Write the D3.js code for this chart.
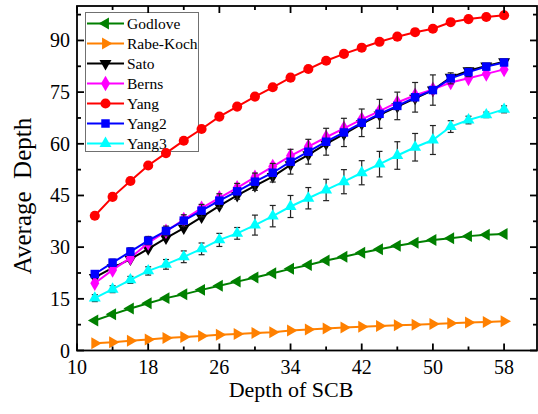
<!DOCTYPE html>
<html>
<head>
<meta charset="utf-8">
<script src="https://cdn.jsdelivr.net/npm/d3@7"></script>
<style>
  body { margin: 0; background: #fff; }
  text { font-family: "Liberation Serif", "Times New Roman", serif; }
</style>
</head>
<body>
<div id="chart"></div>
<script>
  // data
  var depths = [12,14,16,18,20,22,24,26,28,30,32,34,36,38,40,42,44,46,48,50,52,54,56,58];
  var godlove  = [8.7,10.5,12.2,13.7,15.2,16.3,17.6,18.8,20.0,21.2,22.4,23.7,24.8,26.1,27.2,28.4,29.4,30.4,31.3,32.1,32.6,33.2,33.6,33.8];
  var rabeKoch = [2.1,2.4,2.8,3.2,3.6,3.9,4.2,4.6,4.8,5.1,5.3,5.8,6.1,6.4,6.7,6.9,7.1,7.3,7.5,7.7,7.9,8.1,8.3,8.5];
  var sato     = [21.2,24.0,26.5,29.5,32.6,35.5,38.7,42.0,45.0,47.8,50.5,53.9,56.8,60.0,62.8,65.8,68.4,70.8,73.2,75.6,79.3,81.2,82.6,83.8];
  var berns    = [19.5,23.4,26.9,31.2,34.6,38.0,41.3,44.3,47.2,50.3,53.4,56.5,59.2,61.9,64.5,67.1,69.5,72.0,74.1,75.8,77.8,79.0,80.3,81.6];
  var yang     = [39.1,44.6,49.2,53.7,57.3,60.9,64.3,67.9,70.8,73.7,76.4,79.2,81.7,84.1,86.1,87.9,89.6,91.1,92.4,93.4,95.3,96.2,96.8,97.3];
  var yang2    = [22.2,25.5,28.7,31.9,34.7,37.7,40.6,43.5,46.2,49.0,51.6,54.8,57.7,60.6,63.3,66.1,68.7,71.0,73.5,75.6,79.0,80.8,82.4,83.6];
  var yang3    = [15.2,17.8,20.5,23.1,25.0,27.2,29.5,32.1,34.0,36.4,39.0,41.8,44.2,46.6,49.0,51.6,54.1,56.6,59.0,61.1,65.0,66.9,68.4,70.0];
  var yang2Err = [0.8,1.0,1.1,1.2,1.4,1.7,1.8,2.0,2.3,2.5,2.7,3.6,3.6,3.9,4.1,4.0,4.2,4.0,4.3,4.4,1.6,1.3,0.8,0.7];
  var yang3Err = [1.0,1.0,1.0,1.2,1.4,1.7,1.7,1.9,1.7,2.9,3.1,3.2,3.1,3.1,3.5,3.5,3.7,4.0,4.0,4.2,1.7,1.1,0.8,1.0];
  var seriesNames = ["Godlove","Rabe-Koch","Sato","Berns","Yang","Yang2","Yang3"];
  var xTicks = [10,18,26,34,42,50,58];
  var yTicks = [0,15,30,45,60,75,90];

  var series = [
    {name: seriesNames[0], values: godlove,  color: "#008000", shape: "left"},
    {name: seriesNames[1], values: rabeKoch, color: "#ff8000", shape: "right"},
    {name: seriesNames[2], values: sato,     color: "#000000", shape: "down"},
    {name: seriesNames[3], values: berns,    color: "#ff00ff", shape: "diamond"},
    {name: seriesNames[4], values: yang,     color: "#ff0000", shape: "circle"},
    {name: seriesNames[5], values: yang2,    color: "#0000ff", shape: "square", err: yang2Err},
    {name: seriesNames[6], values: yang3,    color: "#00ffff", shape: "up", err: yang3Err}
  ];

  var W = 538, H = 414;
  var plotL = 77, plotR = 537, plotT = 6, plotB = 350.5;
  var serif = "Liberation Serif, Times New Roman, serif";

  var svg = d3.select("#chart").append("svg")
    .attr("width", W).attr("height", H);

  var x = d3.scaleLinear().domain([10, 61.7]).range([plotL, plotR]);
  var y = d3.scaleLinear().domain([0, 100]).range([plotB, plotT]);

  function markerPath(shape) {
    var s;
    if (shape == "circle") s = d3.symbol().type(d3.symbolCircle).size(80);
    else if (shape == "square") s = d3.symbol().type(d3.symbolSquare).size(72);
    else if (shape == "diamond") s = d3.symbol().type(d3.symbolDiamond).size(70);
    else s = d3.symbol().type(d3.symbolTriangle).size(62);
    return s();
  }
  function markerRot(shape) {
    if (shape == "left") return -90;
    if (shape == "right") return 90;
    if (shape == "down") return 180;
    return 0;
  }

  // legend (drawn first, the data goes over it)
  var lg = svg.append("g");
  lg.append("rect")
    .attr("x", 85.5).attr("y", 12.5).attr("width", 113).attr("height", 139)
    .attr("fill", "#fff").attr("stroke", "#707070").attr("stroke-width", 1);
  series.forEach(function(s, i) {
    var ly = 23.5 + i * 20;
    lg.append("line").attr("x1", 87).attr("x2", 124).attr("y1", ly).attr("y2", ly)
      .attr("stroke", s.color).attr("stroke-width", 2);
    lg.append("path").attr("d", markerPath(s.shape))
      .attr("transform", "translate(105.5," + ly + ") rotate(" + markerRot(s.shape) + ")")
      .attr("fill", s.color);
    lg.append("text").attr("x", 127).attr("y", ly + 5.5)
      .attr("font-family", serif)
      .attr("font-size", "15.5px").text(s.name);
  });

  var line = d3.line()
    .x(function(d) { return x(d[0]); })
    .y(function(d) { return y(d[1]); });

  // series lines, error bars and markers
  series.forEach(function(s) {
    var pts = depths.map(function(d, i) { return [d, s.values[i]]; });
    var g = svg.append("g");
    g.append("path")
      .datum(pts)
      .attr("d", line)
      .attr("fill", "none")
      .attr("stroke", s.color)
      .attr("stroke-width", 2);
    if (s.err) {
      var eb = g.append("g").attr("stroke", "#222").attr("stroke-width", 1.2);
      depths.forEach(function(d, i) {
        var cx = x(d), y0 = y(s.values[i] - s.err[i]), y1 = y(s.values[i] + s.err[i]);
        eb.append("line").attr("x1", cx).attr("x2", cx).attr("y1", y0).attr("y2", y1);
        eb.append("line").attr("x1", cx - 3).attr("x2", cx + 3).attr("y1", y0).attr("y2", y0);
        eb.append("line").attr("x1", cx - 3).attr("x2", cx + 3).attr("y1", y1).attr("y2", y1);
      });
    }
    g.selectAll("path.mk")
      .data(pts)
      .enter()
      .append("path")
      .attr("class", "mk")
      .attr("d", markerPath(s.shape))
      .attr("transform", function(d) {
        return "translate(" + x(d[0]) + "," + y(d[1]) + ") rotate(" + markerRot(s.shape) + ")";
      })
      .attr("fill", s.color);
  });

  // axes: ticks inward on all four sides
  var xMinor = [14,22,30,38,46,54];
  var yMinor = [7.5,22.5,37.5,52.5,67.5,82.5,97.5];
  var ax = svg.append("g").attr("stroke", "#000");
  ax.append("rect").attr("x", plotL).attr("y", plotT)
    .attr("width", plotR - plotL).attr("height", plotB - plotT)
    .attr("fill", "none").attr("stroke-width", 1.8);
  xTicks.concat(xMinor).forEach(function(t) {
    var len = xTicks.indexOf(t) >= 0 ? 7 : 4;
    ax.append("line").attr("x1", x(t)).attr("x2", x(t)).attr("y1", plotB).attr("y2", plotB - len).attr("stroke-width", 1.8);
    ax.append("line").attr("x1", x(t)).attr("x2", x(t)).attr("y1", plotT).attr("y2", plotT + len).attr("stroke-width", 1.8);
  });
  yTicks.concat(yMinor).forEach(function(t) {
    var len = yTicks.indexOf(t) >= 0 ? 7 : 4;
    ax.append("line").attr("y1", y(t)).attr("y2", y(t)).attr("x1", plotL).attr("x2", plotL + len).attr("stroke-width", 1.8);
    ax.append("line").attr("y1", y(t)).attr("y2", y(t)).attr("x1", plotR).attr("x2", plotR - len).attr("stroke-width", 1.8);
  });

  svg.append("g").selectAll("text").data(xTicks).enter().append("text")
    .attr("x", function(d) { return x(d); })
    .attr("y", 374)
    .attr("text-anchor", "middle")
    .attr("font-size", "20px")
    .text(function(d) { return d; });
  svg.append("g").selectAll("text").data(yTicks).enter().append("text")
    .attr("x", 70)
    .attr("y", function(d) { return y(d) + 7; })
    .attr("text-anchor", "end")
    .attr("font-size", "20px")
    .text(function(d) { return d; });

  svg.append("text")
    .attr("x", 291).attr("y", 397)
    .attr("text-anchor", "middle")
    .attr("font-size", "22px")
    .text("Depth of SCB");
  svg.append("text")
    .attr("transform", "translate(31,196) rotate(-90)")
    .attr("text-anchor", "middle")
    .attr("font-size", "25px")
    .style("white-space", "pre")
    .text("Average  Depth");
</script>
</body>
</html>
